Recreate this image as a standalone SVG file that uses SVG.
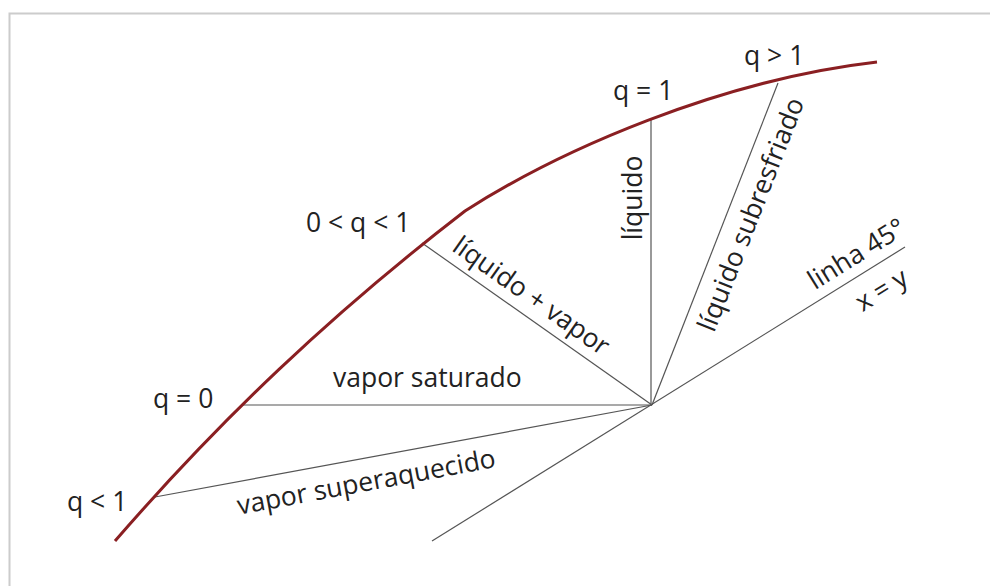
<svg xmlns="http://www.w3.org/2000/svg" width="990" height="586" viewBox="0 0 990 586">
<style>
.t{font-family:"Open Sans","Noto Sans","Liberation Sans",sans-serif;font-size:26.5px;fill:#222}
.c{text-anchor:middle;dominant-baseline:central}
.ln{stroke:#555;stroke-width:1.2;fill:none}
.curve{stroke:#8a1f22;stroke-width:3;fill:none}
</style>
<rect x="0" y="0" width="990" height="586" fill="#fff"/>
<rect x="9.5" y="13.5" width="1000" height="600" fill="none" stroke="#cccccc" stroke-width="2"/>
<g id="connectors">
<line class="ln" x1="241" y1="405" x2="652" y2="405"/>
<line class="ln" x1="155" y1="497" x2="652" y2="405"/>
<line class="ln" x1="422" y1="243" x2="652" y2="405"/>
<line class="ln" x1="651" y1="118" x2="651" y2="405"/>
<line class="ln" x1="778" y1="83" x2="652" y2="405"/>
<line class="ln" x1="432" y1="541" x2="905" y2="247"/>
</g>
<g id="curve">
<path class="curve" d="M115,541 C220,420 330,315 465,211 C560,150 720,80 877,62"/>
</g>
<g id="label-q-lt-1"><text class="t" x="67" y="511">q &lt; 1</text></g>
<g id="label-q-0"><text class="t" x="153" y="408">q = 0</text></g>
<g id="label-0-q-1"><text class="t" x="306" y="232">0 &lt; q &lt; 1</text></g>
<g id="label-q-1"><text class="t" x="613" y="100">q = 1</text></g>
<g id="label-q-gt-1"><text class="t" x="744" y="65">q &gt; 1</text></g>
<g id="label-vapor-saturado"><text class="t" x="333" y="387">vapor saturado</text></g>
<g id="label-vapor-superaquecido"><text class="t c" transform="translate(366,481) rotate(-10.5)">vapor superaquecido</text></g>
<g id="label-liquido-vapor"><text class="t c" transform="translate(532,295) rotate(35.2)">líquido + vapor</text></g>
<g id="label-liquido"><text class="t c" transform="translate(632,198) rotate(-90)">líquido</text></g>
<g id="label-liquido-subresfriado"><text class="t c" transform="translate(750,214) rotate(-68.6)">líquido subresfriado</text></g>
<g id="label-linha"><text class="t c" transform="translate(856,253) rotate(-31.9)">linha 45°</text></g>
<g id="label-xy"><text class="t c" transform="translate(881,289) rotate(-31.9)">x = y</text></g>
</svg>
